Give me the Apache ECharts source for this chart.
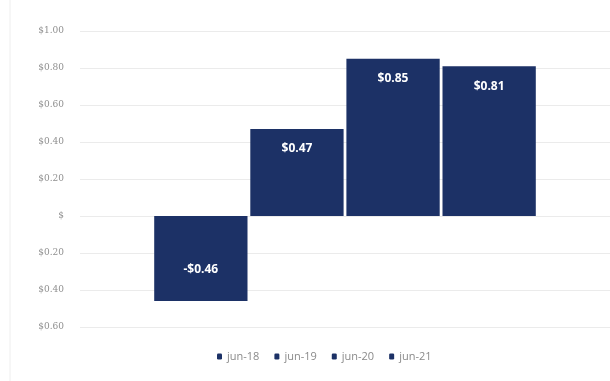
<!DOCTYPE html>
<html>
<head>
<meta charset="utf-8">
<script src="https://cdn.jsdelivr.net/npm/echarts@6/dist/echarts.min.js"></script>
<style>
  html, body { margin: 0; padding: 0; background: #fff; }
  #chart { width: 610px; height: 381px; }
</style>
</head>
<body>
<div id="chart"></div>
<script>
// values
var periods = ["jun-18", "jun-19", "jun-20", "jun-21"];
var values = [-0.46, 0.47, 0.85, 0.81];
var category = [""];

var barColor = "#1c3166";

function money(v) {
  if (Math.abs(v) < 1e-9) return "$";
  return "$" + Math.abs(v).toFixed(2);
}

var series = periods.map(function (name, i) {
  var neg = values[i] < 0;
  return {
    name: name,
    type: "bar",
    data: [values[i]],
    barGap: "3%",
    barCategoryGap: "28%",
    itemStyle: { color: barColor },
    label: {
      show: true,
      position: neg ? "insideBottom" : "insideTop",
      distance: neg ? 26 : 14,
      color: "#fff",
      fontWeight: "bold",
      fontSize: 12,
      fontFamily: "Open Sans",
      formatter: function (p) {
        return (p.value < 0 ? "-" : "") + "$" + Math.abs(p.value).toFixed(2);
      }
    }
  };
});

var myChart = echarts.init(document.getElementById("chart"));
myChart.setOption({
  animation: false,
  graphic: [{
    type: "line",
    shape: { x1: 10, y1: 0, x2: 10, y2: 381 },
    style: { stroke: "#eeeeee", lineWidth: 1 }
  }],
  legend: {
    bottom: 14,
    left: 212,
    itemWidth: 5,
    itemHeight: 6,
    itemGap: 15,
    textStyle: { color: "#8a8a8a", fontSize: 11, fontFamily: "Open Sans" },
    data: periods
  },
  grid: { left: 80, right: 0, top: 31, bottom: 54 },
  xAxis: {
    type: "category",
    data: category,
    axisLine: { show: false },
    axisTick: { show: false },
    axisLabel: { show: false }
  },
  yAxis: {
    type: "value",
    min: -0.6,
    max: 1.0,
    interval: 0.2,
    axisLine: { show: false },
    axisTick: { show: false },
    splitLine: { lineStyle: { color: "#ebebeb", width: 1 } },
    axisLabel: {
      color: "#8f8f8f",
      fontSize: 9,
      fontFamily: "DejaVu Serif",
      margin: 16,
      formatter: money
    }
  },
  series: series
});
</script>
</body>
</html>
